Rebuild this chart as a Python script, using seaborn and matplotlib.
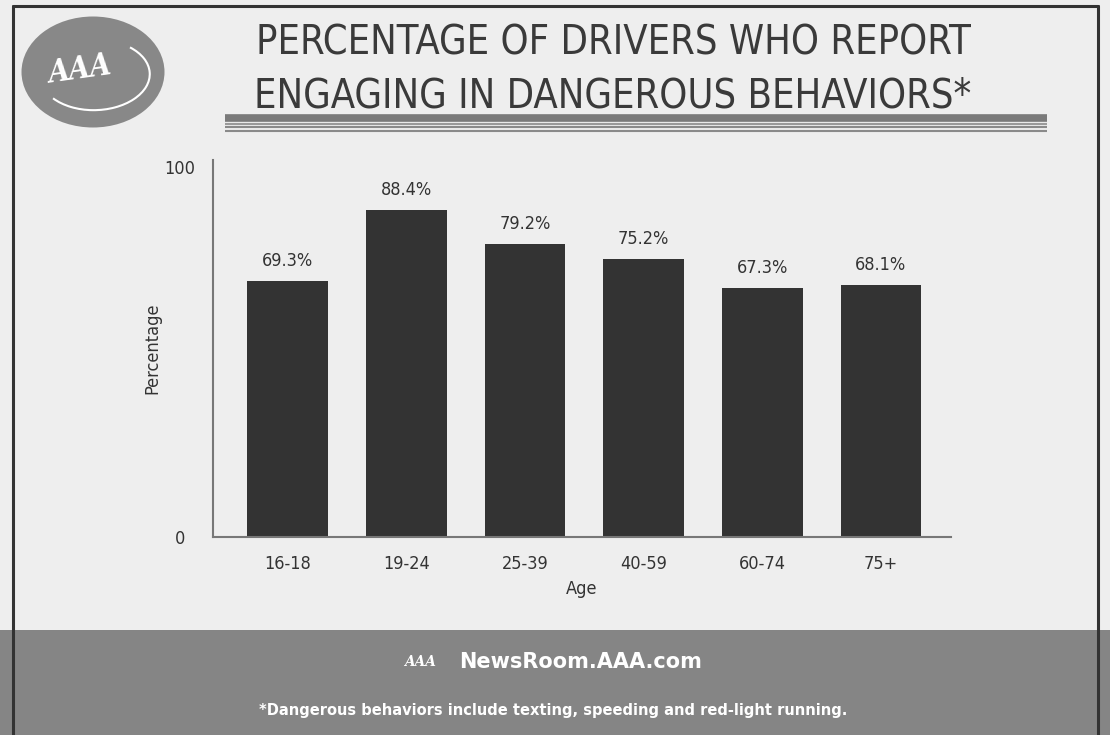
import matplotlib
matplotlib.use('Agg')
import matplotlib.pyplot as plt
import matplotlib.patches as mpatches
import seaborn as sns
import pandas as pd

age_groups = ['16-18', '19-24', '25-39', '40-59', '60-74', '75+']
pct = [69.3, 88.4, 79.2, 75.2, 67.3, 68.1]
bar_labels = ['69.3%', '88.4%', '79.2%', '75.2%', '67.3%', '68.1%']

title = 'PERCENTAGE OF DRIVERS WHO REPORT\nENGAGING IN DANGEROUS BEHAVIORS*'
site = 'NewsRoom.AAA.com'
note = '*Dangerous behaviors include texting, speeding and red-light running.'

sns.set_style('white')
plt.rcParams['font.family'] = ['DejaVu Sans']
plt.rcParams['font.stretch'] = 'condensed'

W, H = 1110, 735
fig = plt.figure(figsize=(W / 100, H / 100), dpi=100)
fig.patch.set_facecolor('#eeeeee')

# footer band
fig.patches.append(mpatches.Rectangle((0, 0), 1, 105 / H, transform=fig.transFigure,
                                      facecolor='#858585', edgecolor='none', zorder=0))
# frame
for xs, ys in [([13 / W, 13 / W], [0, 1 - 6 / H]), ([1098 / W, 1098 / W], [0, 1 - 6 / H]),
               ([13 / W, 1098 / W], [1 - 6 / H, 1 - 6 / H])]:
    fig.add_artist(plt.Line2D(xs, ys, color='#333333', lw=2.2, transform=fig.transFigure))

# logo
fig.patches.append(mpatches.Ellipse((93 / W, 1 - 72 / H), 143 / W, 111 / H,
                                    transform=fig.transFigure, facecolor='#888888',
                                    edgecolor='none'))
fig.text(80 / W, 1 - 70 / H, 'AAA', color='white', fontsize=22, fontweight='bold',
         ha='center', va='center', family='DejaVu Serif', style='italic', rotation=8)
fig.patches.append(mpatches.Arc((95 / W, 1 - 75 / H), 110 / W, 70 / H, angle=20,
                                theta1=200, theta2=30, transform=fig.transFigure,
                                color='white', lw=1.5))

# title
fig.text(613 / W, 1 - 70 / H, title, ha='center', va='center', fontsize=28.5,
         color='#3a3a3a', linespacing=1.4, fontweight='light')

# stripes under title
for y0, lw, c in [(118, 5.5, '#7a7a7a'), (123.5, 1.5, '#9a9a9a'),
                  (127, 1.5, '#8a8a8a'), (130.5, 1.5, '#8a8a8a')]:
    fig.add_artist(plt.Line2D([225 / W, 1047 / W], [1 - y0 / H, 1 - y0 / H],
                              color=c, lw=lw, transform=fig.transFigure,
                              solid_capstyle='butt'))

# chart
ax = fig.add_axes([213 / W, 1 - 537 / H, (951 - 213) / W, (537 - 160) / H])
ax.set_facecolor('#eeeeee')
df = pd.DataFrame({'Age': age_groups, 'Percentage': pct})
sns.barplot(data=df, x='Age', y='Percentage', color='#333333', saturation=1,
            width=0.68, linewidth=0, ax=ax)
ax.set_xlim(-0.63, 5.59)
ax.set_ylim(0, 102)
ax.set_yticks([0, 100])
ax.set_yticklabels(['0', '100'], ha='center')
for i, (v, lab) in enumerate(zip(pct, bar_labels)):
    ax.annotate(lab, (i, v), xytext=(0, 8), textcoords='offset points',
                ha='center', va='bottom', fontsize=13, color='#333333')
sns.despine(ax=ax, top=True, right=True)
for s in ['left', 'bottom']:
    ax.spines[s].set_color('#777777')
    ax.spines[s].set_linewidth(1.5)
ax.tick_params(axis='both', length=0, colors='#333333', labelsize=13)
ax.tick_params(axis='y', pad=24)
ax.tick_params(axis='x', pad=13)
ax.set_xlabel('Age', fontsize=13, color='#333333', labelpad=5)
ax.set_ylabel('Percentage', fontsize=13, color='#333333', labelpad=2)

# footer text
fig.text(420 / W, 1 - 662 / H, 'AAA', color='white', fontsize=11, fontweight='bold',
         style='italic', family='DejaVu Serif', ha='center', va='center')
fig.text(581 / W, 1 - 662 / H, site, color='white', fontsize=15, fontweight='bold',
         ha='center', va='center', family='DejaVu Sans', stretch='normal')
fig.text(553 / W, 1 - 710 / H, note, color='white', fontsize=10.5, fontweight='bold',
         ha='center', va='center', family='DejaVu Sans', stretch='normal')

fig.savefig('out.png', dpi=100, facecolor=fig.get_facecolor())
